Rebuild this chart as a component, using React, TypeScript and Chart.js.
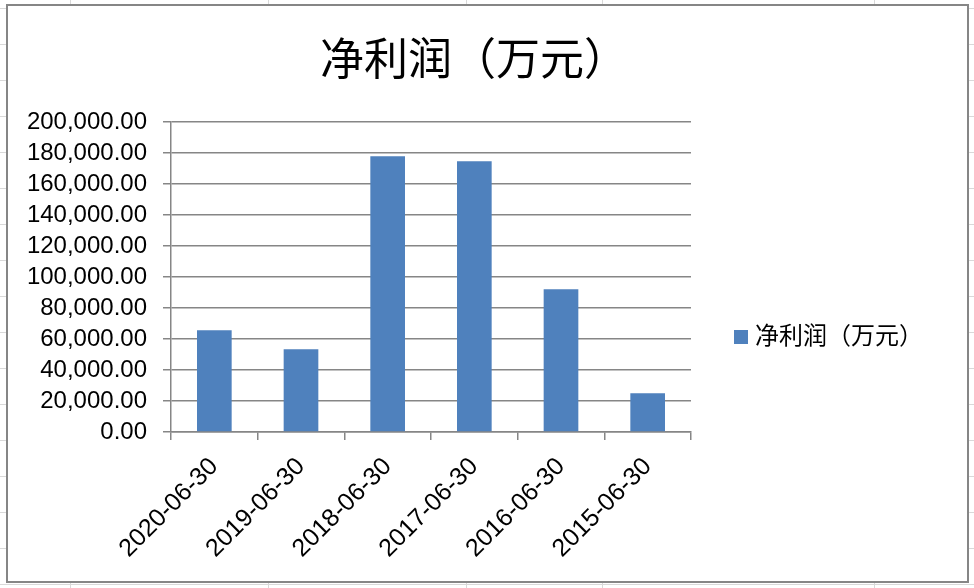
import React, { useEffect, useRef } from "react";
import { Chart, registerables } from "chart.js";

Chart.register(...registerables);

// ---- data ----
const categories = ["2020-06-30", "2019-06-30", "2018-06-30", "2017-06-30", "2016-06-30", "2015-06-30"];
const netProfit = [65600, 53400, 177900, 174600, 92100, 25000];
const seriesName = "净利润（万元）";
const chartTitle = "净利润（万元）";
const yMin = 0;
const yMax = 200000;
const yStep = 20000;

// spreadsheet background grid (outside the chart object)
const sheetRows = Array.from({ length: 17 }, (_, i) => 8 + 36 * i);
const sheetCols = [70, 268, 466, 602, 874];

const AXIS = "#868686";
const BAR = "#4F81BD";

function formatNum(v: number) {
  return v.toLocaleString("en-US", { minimumFractionDigits: 2, maximumFractionDigits: 2 });
}

export default function App() {
  const ref = useRef<HTMLCanvasElement | null>(null);

  useEffect(() => {
    if (!ref.current) return;
    const chart = new Chart(ref.current, {
      type: "bar",
      data: {
        labels: categories,
        datasets: [
          {
            label: seriesName,
            data: netProfit,
            backgroundColor: BAR,
            borderWidth: 0,
            categoryPercentage: 1,
            barPercentage: 0.4,
          },
        ],
      },
      options: {
        animation: false,
        responsive: false,
        maintainAspectRatio: false,
        layout: { padding: { left: 0, top: 122, right: 283, bottom: 0 } },
        plugins: {
          legend: { display: false },
          title: { display: false },
          tooltip: { enabled: false },
        },
        scales: {
          x: {
            grid: {
              drawOnChartArea: false,
              drawTicks: true,
              tickLength: 8,
              color: AXIS,
              lineWidth: 1.5,
              offset: true,
            },
            border: { color: AXIS, width: 1.5 },
            ticks: {
              color: "#000",
              font: { family: "'Liberation Sans', Arial, sans-serif", size: 25 },
              minRotation: 45,
              maxRotation: 45,
              autoSkip: false,
              padding: 12,
            },
            afterFit: (s: any) => {
              s.height = 156;
            },
          },
          y: {
            min: yMin,
            max: yMax,
            grid: { color: AXIS, lineWidth: 1.5, tickLength: 8, drawTicks: true },
            border: { color: AXIS, width: 1.5 },
            ticks: {
              stepSize: yStep,
              autoSkip: false,
              color: "#000",
              padding: 16,
              font: { family: "'Liberation Sans', Arial, sans-serif", size: 24 },
              callback: (v: any) => formatNum(Number(v)),
            },
            afterFit: (s: any) => {
              s.width = 171;
            },
          },
        },
      },
    });
    return () => chart.destroy();
  }, []);

  return (
    <div
      style={{
        position: "fixed",
        left: 0,
        top: 0,
        width: 974,
        height: 588,
        background: "#fff",
        overflow: "hidden",
      }}
    >
      {sheetRows.map((y) => (
        <div
          key={"r" + y}
          style={{ position: "absolute", left: 0, top: y, width: 974, height: 1, background: "#d9d9d9" }}
        />
      ))}
      {sheetCols.map((x) => (
        <div
          key={"c" + x}
          style={{ position: "absolute", left: x, top: 0, width: 1, height: 588, background: "#d9d9d9" }}
        />
      ))}
      <div
        style={{
          position: "absolute",
          left: 6,
          top: 4,
          width: 959,
          height: 575,
          border: `2px solid ${AXIS}`,
          background: "#fff",
        }}
      />
      <canvas
        ref={ref}
        width={974}
        height={588}
        style={{ position: "absolute", left: 0, top: 0, width: 974, height: 588 }}
      />
      <div
        style={{
          position: "absolute",
          left: 320,
          top: 34,
          fontFamily: "'Noto Sans CJK SC', sans-serif",
          fontSize: 44,
          lineHeight: "44px",
          whiteSpace: "nowrap",
          color: "#000",
        }}
      >
        {chartTitle}
      </div>
      <div
        style={{
          position: "absolute",
          left: 734,
          top: 330,
          width: 14,
          height: 14,
          background: BAR,
        }}
      />
      <div
        style={{
          position: "absolute",
          left: 755,
          top: 322,
          fontFamily: "'Noto Sans CJK SC', sans-serif",
          fontSize: 24,
          lineHeight: "24px",
          whiteSpace: "nowrap",
          color: "#000",
        }}
      >
        {seriesName}
      </div>
    </div>
  );
}
